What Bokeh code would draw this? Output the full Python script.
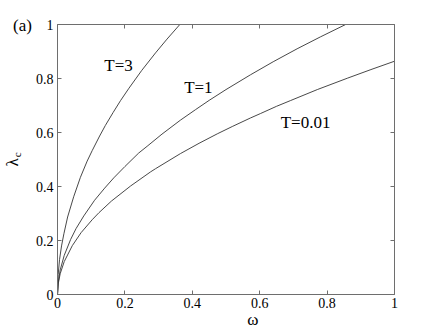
from bokeh.plotting import figure
from bokeh.models import (FixedTicker, NumeralTickFormatter, LinearAxis, Label,
                          CustomJSTickFormatter, Range1d)
from bokeh.embed import file_html
from bokeh.resources import INLINE

# --- data ---
w_T3 = [0, 0.002, 0.006, 0.012, 0.019, 0.03, 0.048, 0.068, 0.088, 0.103, 0.125, 0.142,
        0.165, 0.187, 0.212, 0.25, 0.291, 0.325, 0.363]
l_T3 = [0, 0.074, 0.129, 0.18, 0.225, 0.287, 0.362, 0.434, 0.494, 0.533, 0.587, 0.626,
        0.674, 0.718, 0.764, 0.830, 0.895, 0.946, 1.0]

w_T1 = [0, 0.002, 0.008, 0.02, 0.039, 0.055, 0.078, 0.11, 0.14, 0.167, 0.2, 0.241, 0.266,
        0.31, 0.365, 0.41, 0.45, 0.5, 0.573, 0.64, 0.711, 0.78, 0.855]
l_T1 = [0, 0.044, 0.091, 0.145, 0.204, 0.244, 0.291, 0.349, 0.394, 0.432, 0.474, 0.524, 0.549,
        0.594, 0.646, 0.685, 0.719, 0.759, 0.814, 0.862, 0.910, 0.954, 1.0]

w_T001 = [0, 0.002, 0.008, 0.02, 0.044, 0.07, 0.103, 0.123, 0.16, 0.217, 0.276, 0.291, 0.365,
          0.42, 0.474, 0.52, 0.573, 0.602, 0.65, 0.691, 0.771, 0.86, 0.93, 1.0]
l_T001 = [0, 0.039, 0.077, 0.122, 0.181, 0.229, 0.277, 0.303, 0.346, 0.402, 0.454, 0.466, 0.522,
          0.560, 0.595, 0.623, 0.654, 0.670, 0.697, 0.718, 0.759, 0.801, 0.833, 0.864]

x_ticks = [0, 0.2, 0.4, 0.6, 0.8, 1.0]
y_ticks = [0, 0.2, 0.4, 0.6, 0.8, 1.0]

curve_labels = ["T=3", "T=1", "T=0.01"]
label_pos = [(0.181, 0.848), (0.418, 0.768), (0.736, 0.638)]

x_title = "ω"
y_title = "λ"
y_title_sub = "c"
panel_tag = "(a)"

FONT = "Liberation Serif"
AXC = "#6e6e6e"
LINEC = "#333333"

# canvas / frame geometry (pixels): data box spans x 57..394, y 24..294 of a 436x331 canvas
W, H = 436, 331
BOX_L, BOX_R, BOX_T, BOX_B = 57, 394, 24, 294
sx = (BOX_R - BOX_L)
sy = (BOX_B - BOX_T)
x_range = Range1d(-BOX_L / sx, (W - BOX_L) / sx)
y_range = Range1d(-(H - BOX_B) / sy, 1 + BOX_T / sy)

p = figure(width=W, height=H, x_range=x_range, y_range=y_range,
           output_backend="svg", toolbar_location=None,
           x_axis_location=None, y_axis_location=None, min_border=0)
p.background_fill_color = "white"
p.border_fill_color = "white"
p.outline_line_color = None
p.xgrid.visible = False
p.ygrid.visible = False

def make_axis(ticks, loc, labelled):
    ax = LinearAxis(fixed_location=loc, bounds=(0, 1))
    ax.ticker = FixedTicker(ticks=ticks)
    ax.major_tick_in = 4
    ax.major_tick_out = 0
    ax.minor_tick_in = 0
    ax.minor_tick_out = 0
    ax.minor_tick_line_color = None
    ax.axis_line_color = AXC
    ax.major_tick_line_color = AXC
    ax.major_label_text_font = FONT
    ax.major_label_text_color = "black"
    if labelled:
        ax.formatter = NumeralTickFormatter(format="0.[0]")
        ax.major_label_text_font_size = "14px"
    else:
        ax.formatter = CustomJSTickFormatter(code="return ''")
        ax.major_label_text_font_size = "1px"
    return ax

bottom = make_axis(x_ticks, 0, True)
bottom.major_label_standoff = 3
p.add_layout(bottom, "below")

left = make_axis(y_ticks, 0, True)
left.major_label_standoff = 4
p.add_layout(left, "left")

top = make_axis(x_ticks, 1, False)
p.add_layout(top, "above")
right = make_axis(y_ticks, 1, False)
p.add_layout(right, "right")

for w, l in [(w_T3, l_T3), (w_T1, l_T1), (w_T001, l_T001)]:
    p.line(w, l, line_color=LINEC, line_width=0.9)

for txt, (x, y) in zip(curve_labels, label_pos):
    p.add_layout(Label(x=x, y=y, text=txt, text_font=FONT, text_font_size="17px",
                       text_align="center", text_baseline="middle", text_color="black"))

extra = [
    dict(x=0.58, y=-0.093, text=x_title, text_font_size="17px", angle=0),
    dict(x=-0.1335, y=0.489, text=y_title, text_font_size="17px", angle=1.5707963),
    dict(x=-0.1187, y=0.517, text=y_title_sub, text_font_size="11px", angle=1.5707963),
    dict(x=-0.104, y=0.996, text=panel_tag, text_font_size="17px", angle=0),
]
for d in extra:
    p.add_layout(Label(text_font=FONT, text_align="center", text_baseline="middle",
                       text_color="black", **d))

open("out.html", "w").write(file_html(p, INLINE))
